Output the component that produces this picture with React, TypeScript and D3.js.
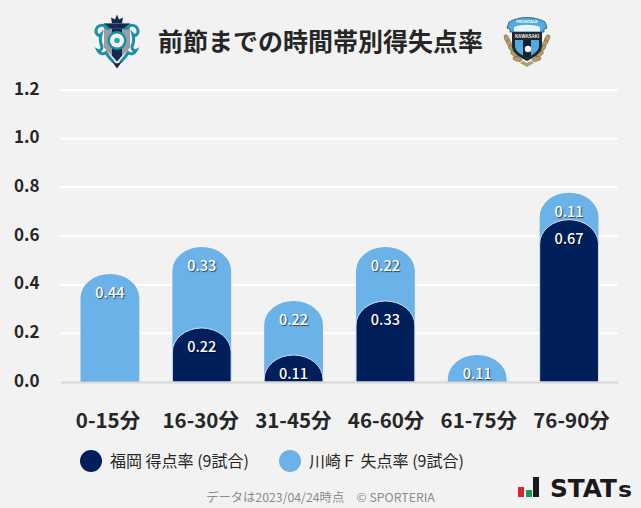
import * as d3 from 'd3';

const categories = ['0-15分', '16-30分', '31-45分', '46-60分', '61-75分', '76-90分'];
// stacked: dark sits at the bottom, light goes on top of it
const fukuokaScored = [0, 0.222, 0.111, 0.333, 0, 0.667];
const kawasakiConceded = [0.444, 0.333, 0.222, 0.222, 0.111, 0.111];
const yTicks = [0, 0.2, 0.4, 0.6, 0.8, 1.0, 1.2];
const legendLabels = ['福岡 得点率 (9試合)', '川崎Ｆ 失点率 (9試合)'];

const WIDTH = 641;
const HEIGHT = 508;
const DARK = '#001f5b';
const LIGHT = '#6ab2e7';
const FONT = '"Noto Sans CJK JP", "Noto Sans", sans-serif';

const x = d3.scaleBand<string>().domain(categories).range([64, 615]).paddingInner(0.36).paddingOuter(0.18);
const y = d3.scaleLinear().domain([0, 1.2]).range([382, 90]);
// the axis labels are spread slightly wider than the bars
const xLabel = d3.scalePoint<string>().domain(categories).range([108, 571.5]);

// bar with an elliptical top, like a rounded column
const barPath = (left: number, w: number, top: number, bottom: number) => {
  const rx = w / 2;
  const ry = Math.min(24, bottom - top);
  return `M${left},${bottom}V${top + ry}A${rx},${ry} 0 0 1 ${left + w},${top + ry}V${bottom}Z`;
};

function FukuokaLogo() {
  const teal = '#1b8fa6';
  const scroll = 'M-9,-13 C-13,-18 -20,-17 -21,-11 C-21.5,-7 -18,-5 -16,-7 C-17,-3 -17,1 -15,5 C-15,8 -17,10 -19,9 C-17,13 -13,13 -11,11 C-9,15 -6,18 -4,20';
  return (
    <g transform="translate(117,41.5)">
      <path d="M0,-27 L2,-22 L6,-24 L5,-18 L-5,-18 L-6,-24 L-2,-22 Z" fill="#14294f" />
      <path d="M-13,-18 L13,-18 L13,6 L0,20 L-13,6 Z" fill="#9a9ca3" />
      <path d="M-13,-18 L13,-18 L12,-13 L-12,-13 Z" fill="#14294f" />
      <path d="M-5,-13 L5,-13 L5,14 L0,20 L-5,14 Z" fill="#14294f" />
      <path d={scroll} fill="none" stroke={teal} strokeWidth={3} strokeLinecap="round" />
      <path d={scroll} transform="scale(-1,1)" fill="none" stroke={teal} strokeWidth={3} strokeLinecap="round" />
      <path d="M-5,20 L0,27 L5,20 L0,22 Z" fill="#14294f" />
      <circle cx={0} cy={-1} r={9.5} fill={teal} />
      <circle cx={0} cy={-1} r={7} fill="#f4f6f6" />
      <circle cx={0} cy={-1} r={2.8} fill="#2fa3b8" />
    </g>
  );
}

function KawasakiLogo() {
  const gold = '#b59d63';
  const leaves = [-2, 3, 8, 13, 18];
  return (
    <g transform="translate(527,41)">
      {leaves.map((ly, i) => (
        <g key={ly}>
          <ellipse cx={-20 + i * 2.6} cy={ly} rx={2.2} ry={4.6} fill={gold} stroke="#5c4c28" strokeWidth={0.4} transform={`rotate(${-25 - i * 12} ${-20 + i * 2.6} ${ly})`} />
          <ellipse cx={20 - i * 2.6} cy={ly} rx={2.2} ry={4.6} fill={gold} stroke="#5c4c28" strokeWidth={0.4} transform={`rotate(${25 + i * 12} ${20 - i * 2.6} ${ly})`} />
        </g>
      ))}
      <path d="M-7,22 L0,26 L7,22 L4,20 L0,22 L-4,20 Z" fill={gold} />
      <path d="M-15,-10 L15,-10 L15,6 C14,13 6,17 0,20 C-6,17 -14,13 -15,6 Z" fill="#20272e" />
      <path d="M-18,-19 C-8,-25 8,-25 18,-19 L20,-13 L17,-12 L17,-9 L-17,-9 L-17,-12 L-20,-13 Z" fill="#50abe0" stroke="#1f3a52" strokeWidth={0.7} />
      <path d="M-13,-14 C-6,-17 6,-17 13,-14 L13,-9.5 L-13,-9.5 Z" fill="#e9f4fb" />
      <text x={0} y={-18} textAnchor="middle" fontSize={4} fontWeight={700} fill="#fff" style={{ fontFamily: '"Liberation Sans", sans-serif' }}>FRONTALE</text>
      <rect x={-15} y={-8} width={30} height={6.5} fill="#20272e" />
      <text x={0} y={-3} textAnchor="middle" fontSize={4.5} fontWeight={700} fill="#f2f2f2" style={{ fontFamily: '"Liberation Sans", sans-serif' }}>KAWASAKI</text>
      <path d="M-12,-1 L12,-1 L12,6 C11,11 5,14 0,17 C-5,14 -11,11 -12,6 Z" fill="#50abe0" />
      <path d="M-4,-1 L4,-1 L4,15 L0,17 L-4,15 Z" fill="#14202c" />
      <circle cx={1} cy={8} r={3.2} fill="#f6f6f6" />
    </g>
  );
}

function BarLabel({ cx, top, value }: { cx: number; top: number; value: number }) {
  return (
    <text
      x={cx}
      y={top + 24}
      textAnchor="middle"
      fontSize={14.5}
      fontWeight={500}
      fill="#fff"
      style={{ textShadow: '1px 1px 1px rgba(0,0,0,0.6)' }}
    >
      {value.toFixed(2)}
    </text>
  );
}

export default function App() {
  const w = x.bandwidth();
  return (
    <svg
      width={WIDTH}
      height={HEIGHT}
      viewBox={`0 0 ${WIDTH} ${HEIGHT}`}
      style={{ position: 'absolute', left: 0, top: 0, background: '#f2f2f2', fontFamily: FONT }}
    >
      <rect width={WIDTH} height={HEIGHT} fill="#f2f2f2" />

      <FukuokaLogo />
      <KawasakiLogo />
      <text x={320.5} y={51} textAnchor="middle" fontSize={25} fontWeight={700} fill="#262626">
        前節までの時間帯別得失点率
      </text>

      {/* grid + y axis */}
      {yTicks.map(t => (
        <g key={t}>
          {t > 0 && <line x1={61} x2={618} y1={y(t)} y2={y(t)} stroke="#fff" strokeWidth={2} />}
          <text x={14} y={y(t) + 4.5} fontSize={17} fontWeight={700} fill="#262626">
            {t.toFixed(1)}
          </text>
        </g>
      ))}

      {/* bars */}
      {categories.map((c, i) => {
        const left = x(c)!;
        const cx = left + w / 2;
        const dark = fukuokaScored[i];
        const light = kawasakiConceded[i];
        const total = dark + light;
        return (
          <g key={c}>
            <path d={barPath(left, w, y(total), y(0))} fill={LIGHT} />
            {dark > 0 && (
              <path d={barPath(left, w, y(dark), y(0))} fill={DARK} stroke="#cfe4f5" strokeWidth={1} />
            )}
            <BarLabel cx={cx} top={y(total)} value={light} />
            {dark > 0 && <BarLabel cx={cx} top={y(dark)} value={dark} />}
          </g>
        );
      })}

      <line x1={61} x2={618} y1={y(0) + 0.5} y2={y(0) + 0.5} stroke="#d8d8d8" strokeWidth={2} />

      {/* x axis labels */}
      {categories.map(c => (
        <text
          key={c}
          x={xLabel(c)!}
          y={428}
          textAnchor="middle"
          fontSize={20.5}
          fontWeight={700}
          fill="#262626"
        >
          {c}
        </text>
      ))}

      {/* legend */}
      <circle cx={91} cy={461} r={11} fill={DARK} />
      <text x={110} y={467} fontSize={16} fill="#262626">{legendLabels[0]}</text>
      <circle cx={290} cy={461} r={11} fill={LIGHT} />
      <text x={309} y={467} fontSize={16} fill="#262626">{legendLabels[1]}</text>

      <text x={320.5} y={502} textAnchor="middle" fontSize={12.3} fill="#8c8c8c">
        データは2023/04/24時点　© SPORTERIA
      </text>

      {/* STATs logo */}
      <g fill="#1a1a1a" style={{ fontFamily: '"DejaVu Sans", sans-serif' }}>
        <rect x={518} y={487} width={6} height={10} fill="#d9232e" />
        <rect x={526} y={490} width={6} height={7} fill="#0f9d58" />
        <rect x={533} y={477} width={6} height={20} />
        <text x={550} y={497} fontSize={25} fontWeight={700} textLength={67} lengthAdjust="spacingAndGlyphs">STAT</text>
        <text x={618} y={497} fontSize={21} fontWeight={700} textLength={14} lengthAdjust="spacingAndGlyphs">s</text>
      </g>
    </svg>
  );
}
